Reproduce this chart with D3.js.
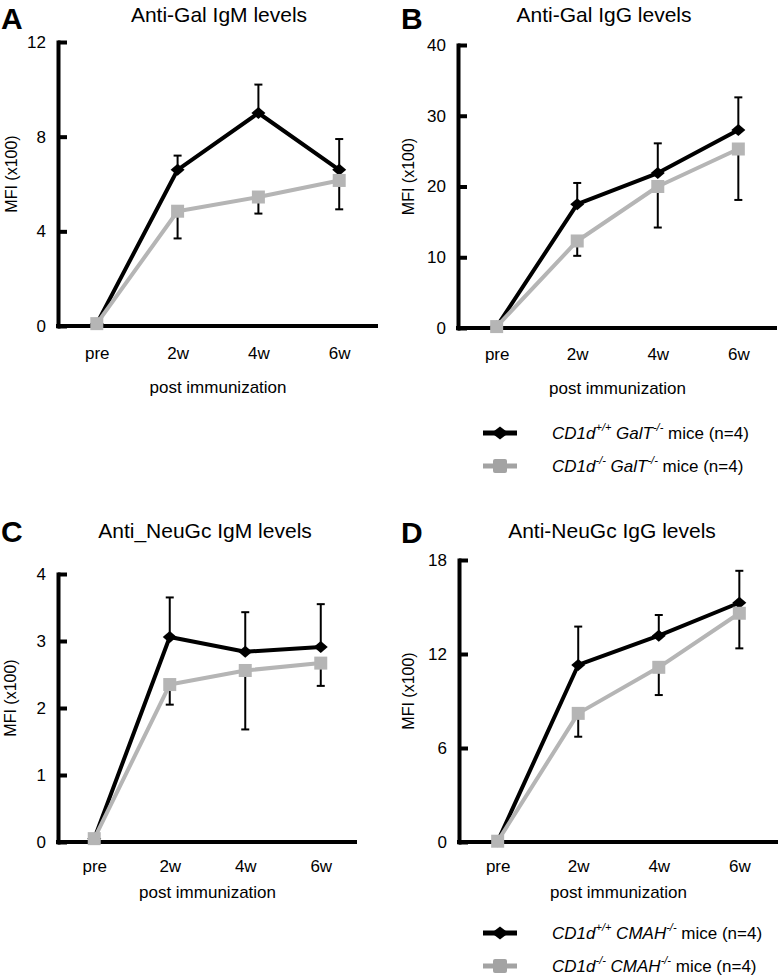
<!DOCTYPE html>
<html>
<head>
<meta charset="utf-8">
<script src="https://cdn.jsdelivr.net/npm/d3@7"></script>
<style>
  html, body { margin: 0; padding: 0; background: #fff; }
  svg { display: block; }
  text { font-family: "Liberation Sans", Arial, Helvetica, sans-serif; fill: #000; }
</style>
</head>
<body>
<svg id="chart" width="780" height="975"></svg>
<script>
// ---------------- DATA ----------------
const categories = ["pre", "2w", "4w", "6w"];

// Panel A: Anti-Gal IgM
const galIgM_WT     = [0.1, 6.6, 9.0, 6.6];
const galIgM_WT_err = [0, 0.6, 1.2, 1.3];
const galIgM_KO     = [0.1, 4.85, 5.45, 6.15];
const galIgM_KO_err = [0, 1.15, 0.7, 1.22];

// Panel B: Anti-Gal IgG
const galIgG_WT     = [0.2, 17.5, 21.9, 28.0];
const galIgG_WT_err = [0, 3.0, 4.2, 4.6];
const galIgG_KO     = [0.2, 12.3, 20.0, 25.3];
const galIgG_KO_err = [0, 2.1, 5.8, 7.2];

// Panel C: Anti_NeuGc IgM
const neuIgM_WT     = [0.05, 3.06, 2.84, 2.91];
const neuIgM_WT_err = [0, 0.59, 0.59, 0.64];
const neuIgM_KO     = [0.05, 2.35, 2.56, 2.67];
const neuIgM_KO_err = [0, 0.30, 0.88, 0.34];

// Panel D: Anti-NeuGc IgG
const neuIgG_WT     = [0.05, 11.3, 13.17, 15.27];
const neuIgG_WT_err = [0, 2.45, 1.32, 2.04];
const neuIgG_KO     = [0.05, 8.21, 11.15, 14.6];
const neuIgG_KO_err = [0, 1.49, 1.77, 2.24];

const ticksA = [0, 4, 8, 12];
const ticksB = [0, 10, 20, 30, 40];
const ticksC = [0, 1, 2, 3, 4];
const ticksD = [0, 6, 12, 18];

const panelLetters = ["A", "B", "C", "D"];
const panelTitles = ["Anti-Gal IgM levels", "Anti-Gal IgG levels", "Anti_NeuGc IgM levels", "Anti-NeuGc IgG levels"];
const yAxisTitle = "MFI (x100)";
const xAxisTitle = "post immunization";
const legendGal = [["CD1d", "+/+", " GalT", "-/-", " mice (n=4)"], ["CD1d", "-/-", " GalT", "-/-", " mice (n=4)"]];
const legendNeu = [["CD1d", "+/+", " CMAH", "-/-", " mice (n=4)"], ["CD1d", "-/-", " CMAH", "-/-", " mice (n=4)"]];

// ---------------- LAYOUT ----------------
const GRAY = "#b5b5b5";
const GRAY_LEG = "#a3a3a3";

const panels = [
  { letter: panelLetters[0], title: panelTitles[0], wt: galIgM_WT, wtErr: galIgM_WT_err, ko: galIgM_KO, koErr: galIgM_KO_err, ticks: ticksA,
    x0: 58, x1: 378, yTop: 42, yBot: 326, letterX: 1, letterY: 29, titleX: 219, titleY: 22, yLabX: 11, xTickDy: 27, xTitleY: 393, legend: null },
  { letter: panelLetters[1], title: panelTitles[1], wt: galIgG_WT, wtErr: galIgG_WT_err, ko: galIgG_KO, koErr: galIgG_KO_err, ticks: ticksB,
    x0: 458, x1: 777, yTop: 45, yBot: 328, letterX: 401, letterY: 29, titleX: 604, titleY: 22, yLabX: 408, xTickDy: 26, xTitleY: 394, legend: { rows: legendGal, y: [433, 466] } },
  { letter: panelLetters[2], title: panelTitles[2], wt: neuIgM_WT, wtErr: neuIgM_WT_err, ko: neuIgM_KO, koErr: neuIgM_KO_err, ticks: ticksC,
    x0: 58, x1: 357, yTop: 574, yBot: 842, letterX: 1, letterY: 542, titleX: 205, titleY: 538, yLabX: 10, xTickDy: 24, xTitleY: 898, legend: null },
  { letter: panelLetters[3], title: panelTitles[3], wt: neuIgG_WT, wtErr: neuIgG_WT_err, ko: neuIgG_KO, koErr: neuIgG_KO_err, ticks: ticksD,
    x0: 459, x1: 778, yTop: 560, yBot: 842, letterX: 401, letterY: 543, titleX: 612, titleY: 538, yLabX: 408, xTickDy: 24, xTitleY: 898, legend: { rows: legendNeu, y: [933, 966] } }
];

const svg = d3.select("#chart");
svg.append("rect").attr("width", 780).attr("height", 975).attr("fill", "#fff");

const diamondPath = (w, h) => `M0,${-h/2}L${w/2},0L0,${h/2}L${-w/2},0Z`;

panels.forEach(p => {
  const g = svg.append("g");
  const x = d3.scalePoint().domain(categories).range([p.x0, p.x1]).padding(0.48);
  const yMax = p.ticks[p.ticks.length - 1];
  const y = d3.scaleLinear().domain([0, yMax]).range([p.yBot, p.yTop]);

  // letter + title
  g.append("text").attr("x", p.letterX).attr("y", p.letterY)
    .attr("font-size", 30).attr("font-weight", "bold").text(p.letter);
  g.append("text").attr("x", p.titleX).attr("y", p.titleY)
    .attr("text-anchor", "middle").attr("font-size", 21).text(p.title);

  // y axis
  const yAxis = g.append("g").attr("transform", `translate(${p.x0},0)`)
    .call(d3.axisLeft(y).tickValues(p.ticks).tickFormat(d3.format("d"))
      .tickSizeInner(-9).tickSizeOuter(0).tickPadding(12));
  yAxis.select(".domain").attr("stroke", "#000").attr("stroke-width", 4).attr("stroke-linecap", "square");
  yAxis.selectAll(".tick line").attr("stroke", "#000").attr("stroke-width", 4);
  yAxis.selectAll(".tick text").attr("font-size", 17).attr("fill", "#000")
    .style("font-family", "'Liberation Sans', Arial, sans-serif");

  // x axis
  const xAxis = g.append("g").attr("transform", `translate(0,${p.yBot})`)
    .call(d3.axisBottom(x).tickSize(0).tickPadding(0));
  xAxis.select(".domain").attr("d", `M${p.x0 - 2},0H${p.x1}`).attr("stroke", "#000").attr("stroke-width", 4);
  xAxis.selectAll(".tick text").attr("dy", null).attr("y", p.xTickDy).attr("dominant-baseline", "central")
    .attr("font-size", 17).attr("fill", "#000")
    .style("font-family", "'Liberation Sans', Arial, sans-serif");

  // axis titles
  g.append("text")
    .attr("transform", `translate(${p.yLabX},${(p.yTop + p.yBot) / 2 - 10}) rotate(-90)`)
    .attr("text-anchor", "middle").attr("dominant-baseline", "central")
    .attr("font-size", 16).text(yAxisTitle);
  g.append("text").attr("x", (x(categories[0]) + x(categories[3])) / 2).attr("y", p.xTitleY)
    .attr("text-anchor", "middle").attr("font-size", 17).text(xAxisTitle);

  // error bars (WT up, KO down)
  const errG = g.append("g").attr("stroke", "#000").attr("stroke-width", 2);
  categories.forEach((c, i) => {
    const cx = x(c);
    if (p.wtErr[i] > 0) {
      const top = y(p.wt[i] + p.wtErr[i]);
      errG.append("line").attr("x1", cx).attr("x2", cx).attr("y1", y(p.wt[i])).attr("y2", top);
      errG.append("line").attr("x1", cx - 4).attr("x2", cx + 4).attr("y1", top).attr("y2", top);
    }
    if (p.koErr[i] > 0) {
      const bot = y(p.ko[i] - p.koErr[i]);
      errG.append("line").attr("x1", cx).attr("x2", cx).attr("y1", y(p.ko[i])).attr("y2", bot);
      errG.append("line").attr("x1", cx - 4).attr("x2", cx + 4).attr("y1", bot).attr("y2", bot);
    }
  });

  const line = d3.line().x((d, i) => x(categories[i])).y(d => y(d));

  // WT series (black diamonds)
  g.append("path").datum(p.wt).attr("d", line).attr("fill", "none")
    .attr("stroke", "#000").attr("stroke-width", 4).attr("stroke-linejoin", "round");
  g.selectAll(".wtpt").data(p.wt).enter().append("path")
    .attr("transform", (d, i) => `translate(${x(categories[i])},${y(d)})`)
    .attr("d", diamondPath(14, 12)).attr("fill", "#000");

  // KO series (gray squares)
  g.append("path").datum(p.ko).attr("d", line).attr("fill", "none")
    .attr("stroke", GRAY).attr("stroke-width", 4).attr("stroke-linejoin", "round");
  g.selectAll(".kopt").data(p.ko).enter().append("rect")
    .attr("x", (d, i) => x(categories[i]) - 6.5).attr("y", d => y(d) - 6.5)
    .attr("width", 13).attr("height", 13).attr("fill", GRAY);

  // legend
  if (p.legend) {
    const lx0 = 483, lx1 = 517, tx = 552;
    p.legend.rows.forEach((row, r) => {
      const ly = p.legend.y[r];
      const lg = g.append("g");
      lg.append("line").attr("x1", lx0).attr("x2", lx1).attr("y1", ly).attr("y2", ly)
        .attr("stroke", r === 0 ? "#000" : GRAY_LEG).attr("stroke-width", 5);
      if (r === 0) {
        lg.append("path").attr("transform", `translate(${(lx0 + lx1) / 2},${ly})`)
          .attr("d", diamondPath(17, 13)).attr("fill", "#000");
      } else {
        lg.append("rect").attr("x", (lx0 + lx1) / 2 - 7).attr("y", ly - 7)
          .attr("width", 14).attr("height", 14).attr("rx", 2).attr("fill", GRAY_LEG);
      }
      const t = lg.append("text").attr("x", tx).attr("y", ly).attr("dominant-baseline", "central")
        .attr("font-size", 17);
      t.append("tspan").attr("font-style", "italic").text(row[0]);
      t.append("tspan").attr("font-style", "italic").attr("font-size", 11).attr("dy", -6).text(row[1]);
      t.append("tspan").attr("font-style", "italic").attr("dy", 6).text(row[2]);
      t.append("tspan").attr("font-style", "italic").attr("font-size", 11).attr("dy", -6).text(row[3]);
      t.append("tspan").attr("dy", 6).text(row[4]);
    });
  }
});
</script>
</body>
</html>
